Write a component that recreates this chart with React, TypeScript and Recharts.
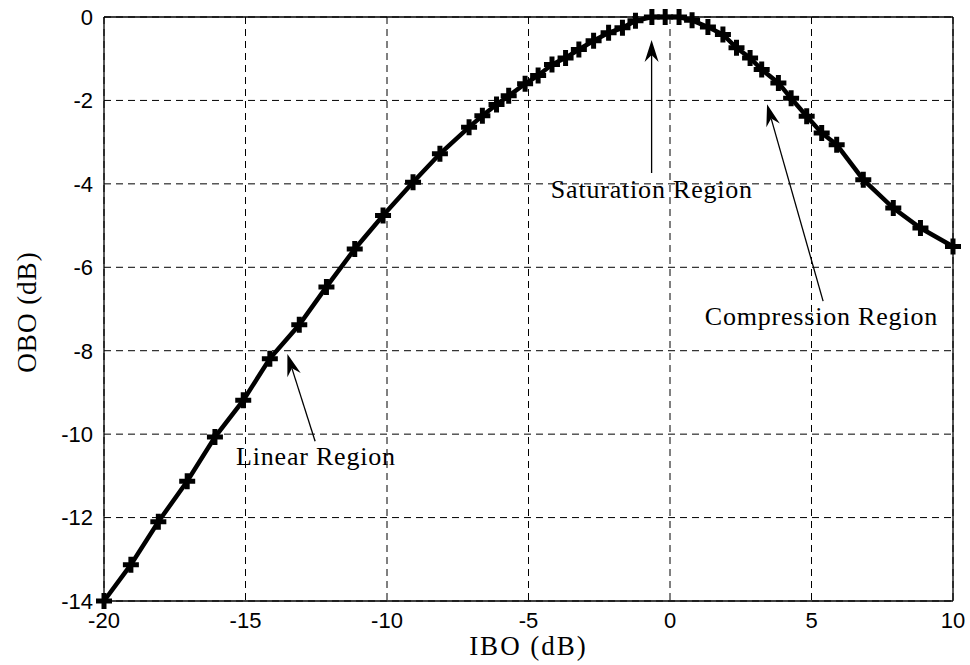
import { LineChart, Line, XAxis, YAxis, CartesianGrid, ReferenceLine, ReferenceDot } from 'recharts';

// IBO (dB) vs OBO (dB)
const ibo = [
    -20, -19.05, -18.08, -17.06, -16.08, -15.08, -14.14, -13.1, -12.14, -11.14,
    -10.14, -9.08, -8.13, -7.1, -6.63, -6.13, -5.7, -5.12, -4.66, -4.17,
    -3.69, -3.22, -2.7, -2.17, -1.68, -1.22, -0.64, -0.17, 0.32, 0.78,
    1.34, 1.87, 2.35, 2.83, 3.24, 3.83, 4.28, 4.83, 5.36, 5.89,
    6.83, 7.89, 8.85, 10,
];
const obo = [
    -14, -13.13, -12.1, -11.13, -10.07, -9.19, -8.19, -7.38, -6.47, -5.56,
    -4.76, -3.96, -3.28, -2.64, -2.37, -2.1, -1.89, -1.6, -1.4, -1.14,
    -0.98, -0.78, -0.57, -0.38, -0.26, -0.09, 0, 0, 0, -0.08,
    -0.24, -0.42, -0.74, -0.98, -1.26, -1.58, -1.95, -2.38, -2.78, -3.06,
    -3.9, -4.58, -5.06, -5.5,
];

const xTicks = [-20, -15, -10, -5, 0, 5, 10];
const yTicks = [0, -2, -4, -6, -8, -10, -12, -14];

// annotation text + arrow (tail -> tip) in data units
const notes = [
    { text: 'Saturation Region', tx: -0.64, ty: -4.34, x1: -0.65, y1: -3.74, x2: -0.65, y2: -0.55 },
    { text: 'Compression Region', tx: 5.35, ty: -7.39, x1: 5.41, y1: -6.81, x2: 3.43, y2: -2.09 },
    { text: 'Linear Region', tx: -12.51, ty: -10.74, x1: -12.54, y1: -10.17, x2: -13.52, y2: -8.08 },
];

const data = ibo.map((x, i) => ({ x, y: obo[i] }));

const serif = '"Liberation Serif", "Times New Roman", serif';
const sans = '"Liberation Sans", Arial, sans-serif';

const PlusDot = (props: any) => {
    const { cx, cy, index } = props;
    if (cx == null || cy == null) return null;
    return (
        <path
            key={`dot-${index}`}
            d={`M${cx - 8},${cy}H${cx + 8}M${cx},${cy - 8}V${cy + 8}`}
            stroke="#000"
            strokeWidth={5}
            fill="none"
        />
    );
};

const Arrow = (props: any) => {
    const { x1, y1, x2, y2 } = props;
    if (x1 == null) return null;
    const a = Math.atan2(y2 - y1, x2 - x1);
    const ux = Math.cos(a), uy = Math.sin(a);
    const nx = -uy, ny = ux;
    const L = 22, W = 7, N = 15;
    const bx = x2 - L * ux, by = y2 - L * uy;
    const mx = x2 - N * ux, my = y2 - N * uy;
    return (
        <g>
            <line x1={x1} y1={y1} x2={mx} y2={my} stroke="#000" strokeWidth={1.3} />
            <path
                d={`M${x2},${y2}L${bx + W * nx},${by + W * ny}L${mx},${my}L${bx - W * nx},${by - W * ny}Z`}
                fill="#000"
            />
        </g>
    );
};

const NoteText = (text: string) => (props: any) => (
    <text
        x={props.cx}
        y={props.cy}
        textAnchor="middle"
        fontFamily={serif}
        fontSize={26}
        letterSpacing={0.8}
        fill="#000"
    >
        {text}
    </text>
);

const App = () => {
    return (
        <div style={{ position: 'absolute', left: 0, top: 0, background: '#fff' }}>
            <LineChart width={970} height={665} data={data} margin={{ top: 17, right: 17, bottom: 0, left: 0 }}>
                <CartesianGrid stroke="#000" strokeWidth={1} strokeDasharray="7 5" />
                <XAxis
                    type="number"
                    dataKey="x"
                    domain={[-20, 10]}
                    ticks={xTicks}
                    height={64}
                    tickLine={false}
                    tickMargin={5}
                    axisLine={{ stroke: '#000', strokeWidth: 1.3 }}
                    tick={{ fill: '#000', fontSize: 22, fontFamily: sans }}
                    label={{
                        content: (p: any) => (
                            <text
                                x={p.viewBox.x + p.viewBox.width / 2}
                                y={p.viewBox.y + 54}
                                textAnchor="middle"
                                fontFamily={serif}
                                fontSize={27}
                                letterSpacing={2}
                                fill="#000"
                            >
                                IBO (dB)
                            </text>
                        ),
                    }}
                />
                <YAxis
                    type="number"
                    domain={[-14, 0]}
                    ticks={yTicks}
                    width={104}
                    tickLine={false}
                    tickMargin={5}
                    axisLine={{ stroke: '#000', strokeWidth: 1.3 }}
                    tick={{ fill: '#000', fontSize: 22, fontFamily: sans }}
                    label={{
                        content: (p: any) => {
                            const cx = p.viewBox.x + 36;
                            const cy = p.viewBox.y + p.viewBox.height / 2 + 3;
                            return (
                                <text
                                    x={cx}
                                    y={cy}
                                    transform={`rotate(-90 ${cx} ${cy})`}
                                    textAnchor="middle"
                                    fontFamily={serif}
                                    fontSize={27}
                                    letterSpacing={1}
                                    fill="#000"
                                >
                                    OBO (dB)
                                </text>
                            );
                        },
                    }}
                />
                <ReferenceLine y={0} stroke="#000" strokeWidth={1.3} />
                <ReferenceLine x={10} stroke="#000" strokeWidth={1.3} />
                {notes.map((n) => (
                    <ReferenceLine
                        key={`arrow-${n.text}`}
                        segment={[{ x: n.x1, y: n.y1 }, { x: n.x2, y: n.y2 }]}
                        shape={<Arrow />}
                    />
                ))}
                {notes.map((n) => (
                    <ReferenceDot key={`text-${n.text}`} x={n.tx} y={n.ty} r={0} shape={NoteText(n.text)} />
                ))}
                <Line
                    type="linear"
                    dataKey="y"
                    stroke="#000"
                    strokeWidth={4.5}
                    dot={<PlusDot />}
                    activeDot={false}
                    isAnimationActive={false}
                />
            </LineChart>
        </div>
    );
};

export default App;
